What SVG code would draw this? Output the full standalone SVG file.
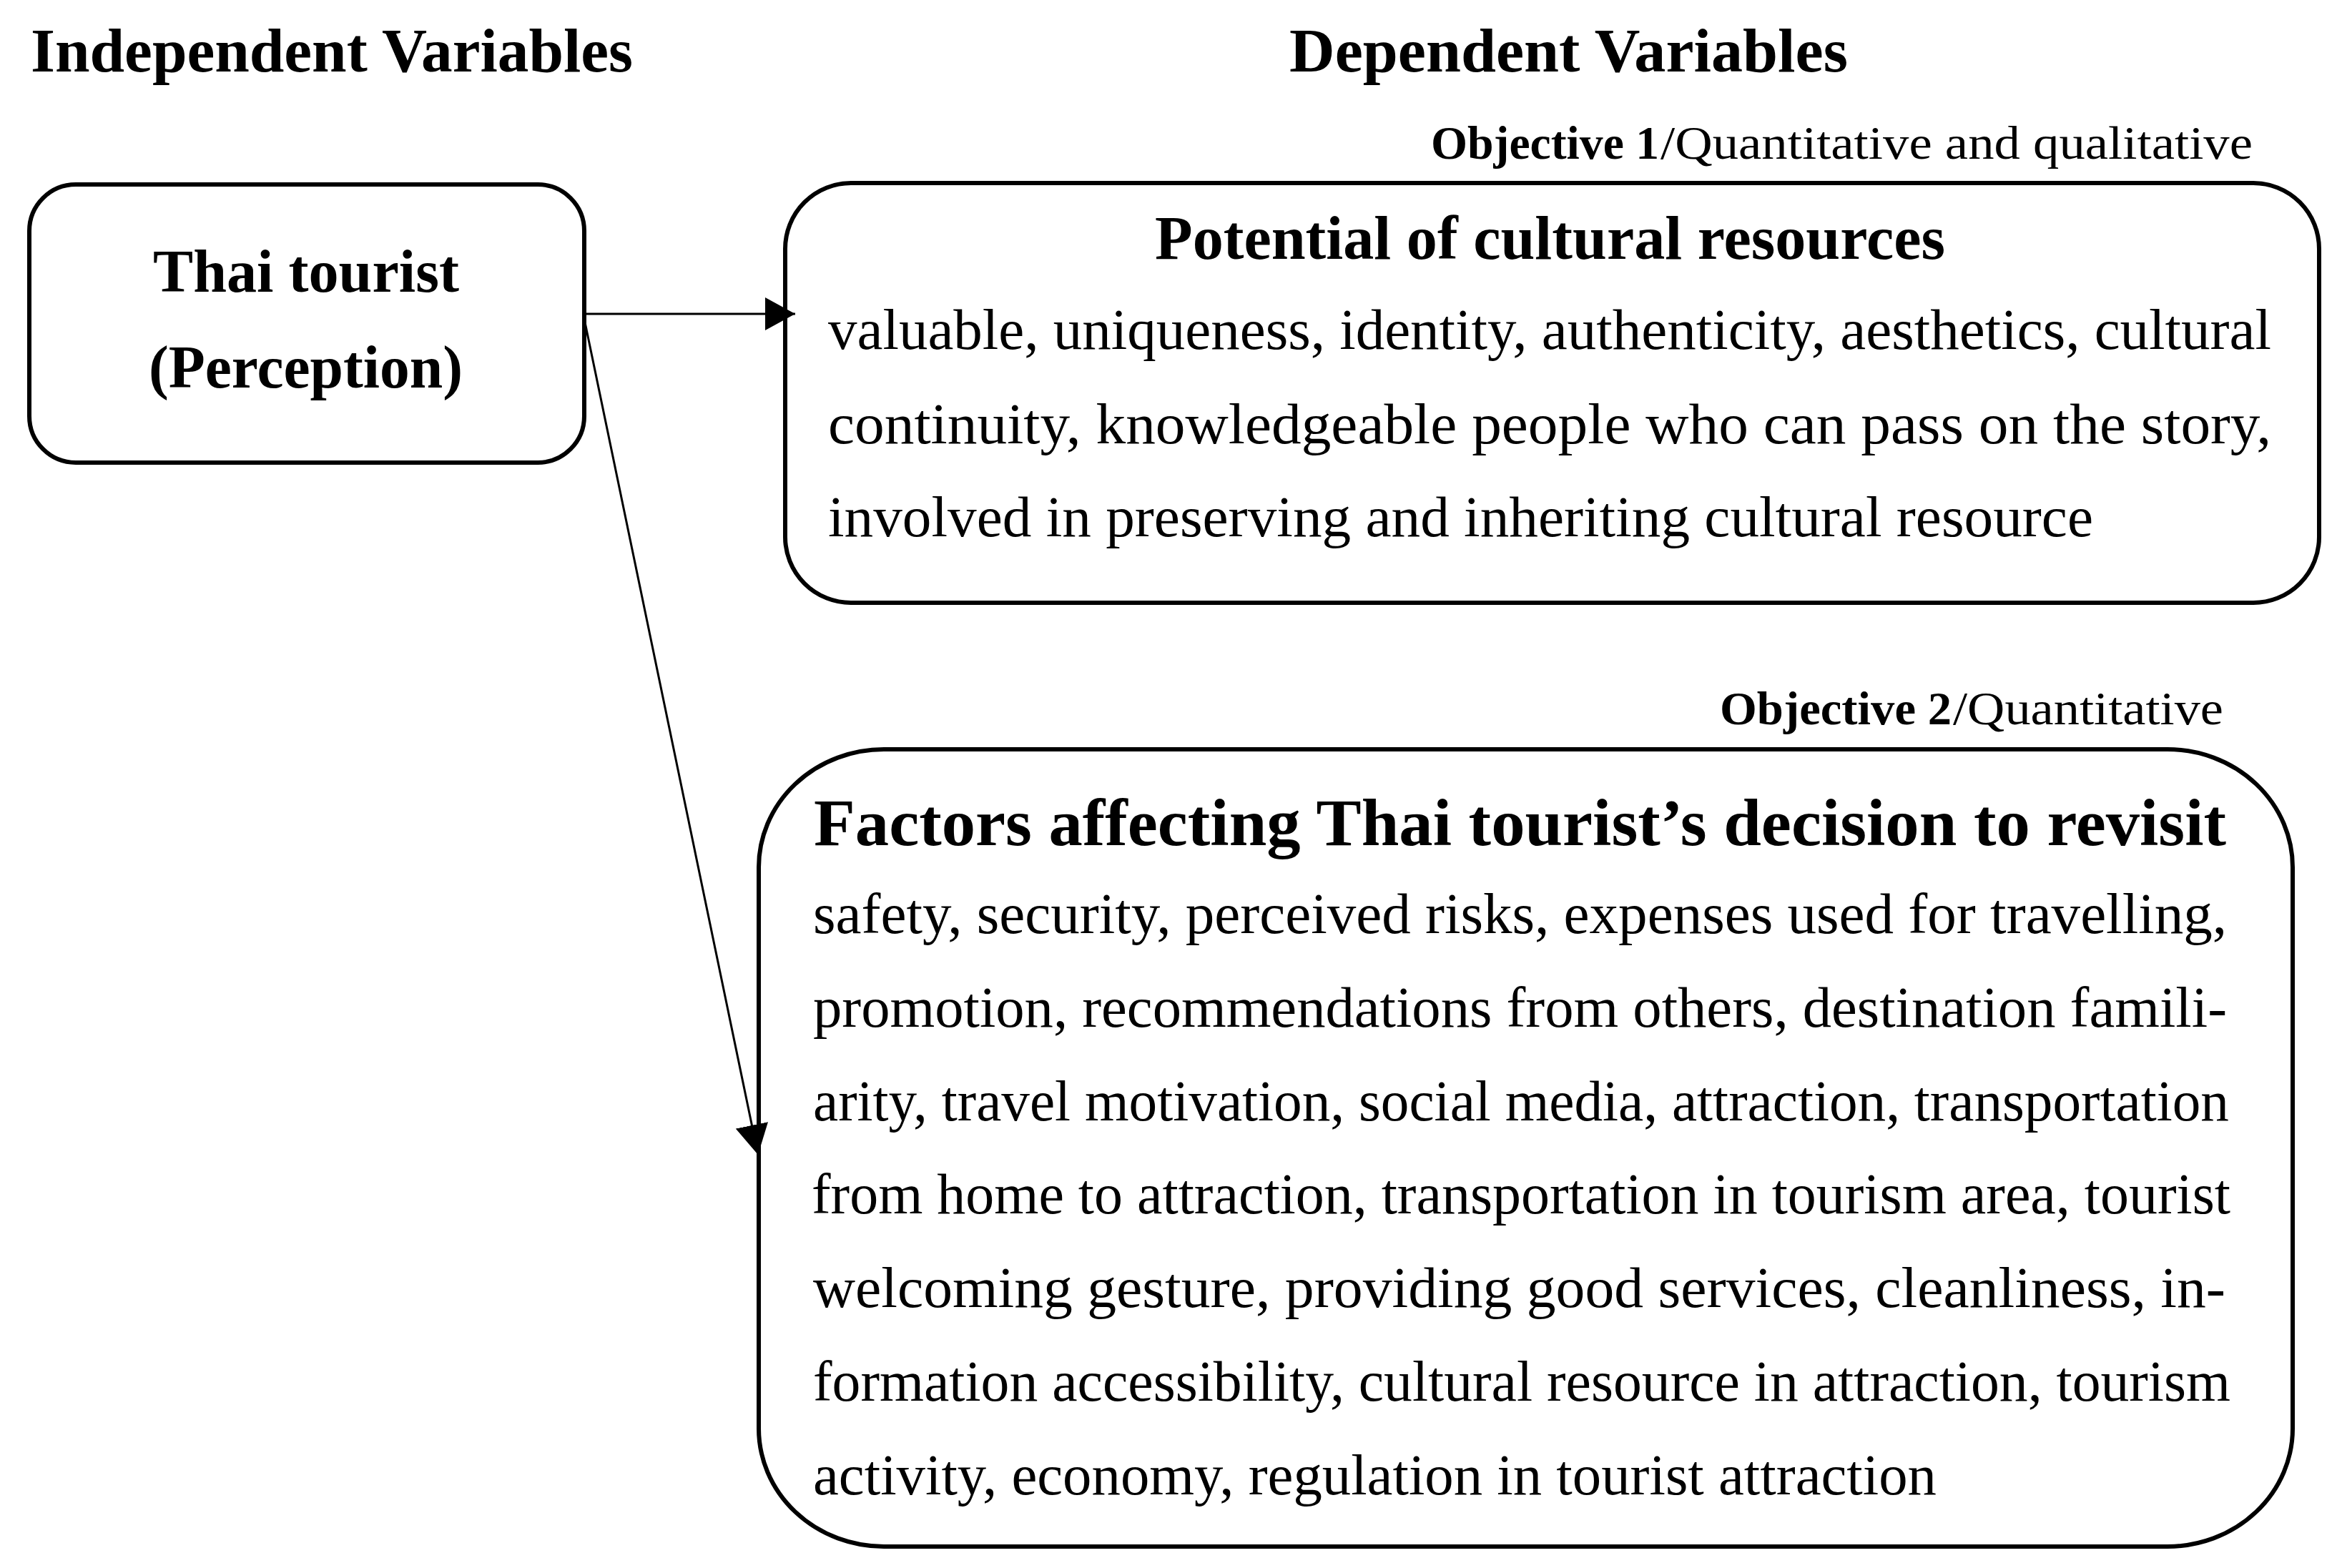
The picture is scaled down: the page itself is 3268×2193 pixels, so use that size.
<svg xmlns="http://www.w3.org/2000/svg" width="3268" height="2193" viewBox="0 0 3268 2193">
<style>
text { font-family: "Liberation Serif", "Times New Roman", serif; fill: #000; }
.hd { font-size: 86px; font-weight: bold; }
.nt { font-size: 84px; font-weight: bold; }
.ttl { font-weight: bold; }
.body { font-size: 80px; }
.obj { font-size: 66px; }
.b { font-weight: bold; }
.box { fill: #fff; stroke: #000; stroke-width: 6; }
.conn { stroke: #000; stroke-width: 3; fill: none; marker-end: url(#arrow); }
</style>
<defs>
<marker id="arrow" markerUnits="userSpaceOnUse" viewBox="0 0 42 46" refX="42" refY="23" markerWidth="42" markerHeight="46" orient="auto">
<path d="M0,0 L42,23 L0,46 Z" fill="#000"/>
</marker>
</defs>
<rect width="3268" height="2193" fill="#fff"/>

<g id="headers">
<text class="hd" x="43" y="100" textLength="842" lengthAdjust="spacingAndGlyphs">Independent Variables</text>
<text class="hd" x="1803" y="100" textLength="781" lengthAdjust="spacingAndGlyphs">Dependent Variables</text>
</g>

<g id="node-thai-tourist">
<rect class="box" x="41" y="258" width="776" height="389" rx="65" ry="65"/>
<text class="nt" x="214" y="408" textLength="428" lengthAdjust="spacingAndGlyphs">Thai tourist</text>
<text class="nt" x="208" y="542" textLength="439" lengthAdjust="spacingAndGlyphs">(Perception)</text>
</g>

<g id="node-potential">
<text class="obj b" x="2001" y="222" textLength="319" lengthAdjust="spacingAndGlyphs">Objective 1</text>
<text class="obj" x="2322" y="222" textLength="828" lengthAdjust="spacingAndGlyphs">/Quantitative and qualitative</text>
<rect class="box" x="1098" y="256" width="2145" height="587" rx="92" ry="92"/>
<text class="ttl" font-size="86" x="1615" y="362" textLength="1105" lengthAdjust="spacingAndGlyphs">Potential of cultural resources</text>
<text class="body" x="1158" y="488" textLength="2018" lengthAdjust="spacingAndGlyphs">valuable, uniqueness, identity, authenticity, aesthetics, cultural</text>
<text class="body" x="1158" y="620" textLength="2018" lengthAdjust="spacingAndGlyphs">continuity, knowledgeable people who can pass on the story,</text>
<text class="body" x="1158" y="750" textLength="1769" lengthAdjust="spacingAndGlyphs">involved in preserving and inheriting cultural resource</text>
</g>

<g id="node-factors">
<text class="obj b" x="2405" y="1013" textLength="324" lengthAdjust="spacingAndGlyphs">Objective 2</text>
<text class="obj" x="2731" y="1013" textLength="378" lengthAdjust="spacingAndGlyphs">/Quantitative</text>
<rect class="box" x="1061" y="1048" width="2145" height="1115" rx="175" ry="165"/>
<text class="ttl" font-size="93" x="1138" y="1182" textLength="1975" lengthAdjust="spacingAndGlyphs">Factors affecting Thai tourist’s decision to revisit</text>
<text class="body" x="1137" y="1305" textLength="1977" lengthAdjust="spacingAndGlyphs">safety, security, perceived risks, expenses used for travelling,</text>
<text class="body" x="1137" y="1436" textLength="1977" lengthAdjust="spacingAndGlyphs">promotion, recommendations from others, destination famili-</text>
<text class="body" x="1137" y="1567" textLength="1980" lengthAdjust="spacingAndGlyphs">arity, travel motivation, social media, attraction, transportation</text>
<text class="body" x="1135" y="1697" textLength="1984" lengthAdjust="spacingAndGlyphs">from home to attraction, transportation in tourism area, tourist</text>
<text class="body" x="1137" y="1828" textLength="1975" lengthAdjust="spacingAndGlyphs">welcoming gesture, providing good services, cleanliness, in-</text>
<text class="body" x="1137" y="1959" textLength="1982" lengthAdjust="spacingAndGlyphs">formation accessibility, cultural resource in attraction, tourism</text>
<text class="body" x="1137" y="2090" textLength="1571" lengthAdjust="spacingAndGlyphs">activity, economy, regulation in tourist attraction</text>
</g>

<g id="connectors">
<line class="conn" x1="817" y1="439" x2="1112" y2="439"/>
<line class="conn" x1="817" y1="446" x2="1060" y2="1615"/>
</g>
</svg>
